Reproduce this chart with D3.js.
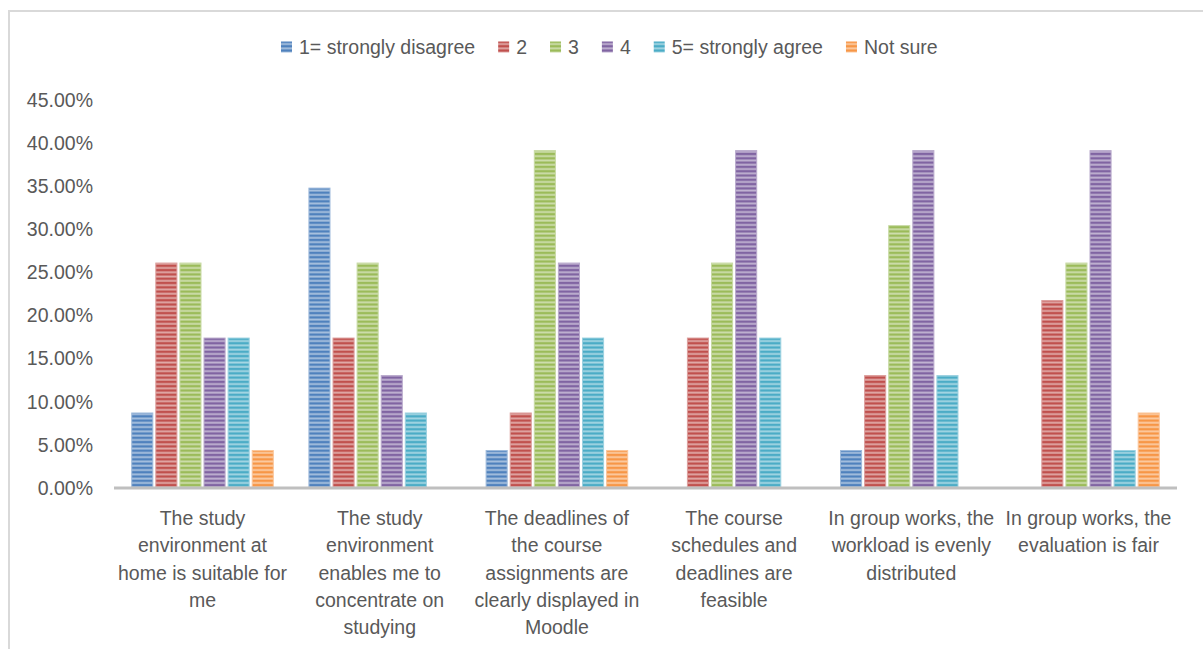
<!DOCTYPE html>
<html>
<head>
<meta charset="utf-8">
<script src="https://cdn.jsdelivr.net/npm/d3@7"></script>
<style>
  html, body { margin: 0; padding: 0; background: #fff; }
  svg { display: block; }
  text { font-family: "Liberation Sans", Arial, sans-serif; fill: #595959; }
</style>
</head>
<body>
<svg id="chart" width="1203" height="649"></svg>
<script>
// Survey statements (line breaks mark how each label wraps)
const categories = [
  "The study\nenvironment at\nhome is suitable for\nme",
  "The study\nenvironment\nenables me to\nconcentrate on\nstudying",
  "The deadlines of\nthe course\nassignments are\nclearly displayed in\nMoodle",
  "The course\nschedules and\ndeadlines are\nfeasible",
  "In group works, the\nworkload is evenly\ndistributed",
  "In group works, the\nevaluation is fair"
];

// Response options (legend order)
const seriesNames = ["1= strongly disagree", "2", "3", "4", "5= strongly agree", "Not sure"];

// Share of respondents (%) per statement, one array per response option
const stronglyDisagree = [8.70, 34.78, 4.35, 0, 4.35, 0];
const option2          = [26.09, 17.39, 8.70, 17.39, 13.04, 21.74];
const option3          = [26.09, 26.09, 39.13, 26.09, 30.43, 26.09];
const option4          = [17.39, 13.04, 26.09, 39.13, 39.13, 39.13];
const stronglyAgree    = [17.39, 8.70, 17.39, 17.39, 13.04, 4.35];
const notSure          = [4.35, 0, 4.35, 0, 0, 8.70];

const yTicks = [0, 5, 10, 15, 20, 25, 30, 35, 40, 45];

const seriesValues = [stronglyDisagree, option2, option3, option4, stronglyAgree, notSure];
const colors = ["#4f81bd", "#c0504d", "#9bbb59", "#8064a2", "#4bacc6", "#f79646"];

const svg = d3.select("#chart");

// Outer chart frame
svg.append("rect")
  .attr("x", 9).attr("y", 11)
  .attr("width", 1200).attr("height", 650)
  .attr("fill", "none").attr("stroke", "#d9d9d9").attr("stroke-width", 2);

// Striped fills for each series
const defs = svg.append("defs");
colors.forEach((c, i) => {
  const light = d3.interpolateRgb(c, "#ffffff")(0.5);
  const p = defs.append("pattern")
    .attr("id", "stripe" + i)
    .attr("patternUnits", "userSpaceOnUse")
    .attr("width", 8).attr("height", 4.3);
  p.append("rect").attr("width", 8).attr("height", 4.3).attr("fill", c);
  p.append("rect").attr("y", 0.4).attr("width", 8).attr("height", 1.9).attr("fill", light);
});

const plot = { left: 114, right: 1177, top: 100, bottom: 488 };

const x0 = d3.scaleBand()
  .domain(d3.range(categories.length))
  .range([plot.left, plot.right])
  .paddingInner(0.167)
  .paddingOuter(0.083);

const x1 = d3.scaleBand()
  .domain(d3.range(seriesNames.length))
  .range([0, x0.bandwidth()])
  .padding(0.125);

const y = d3.scaleLinear().domain([0, 45]).range([plot.bottom, plot.top]);

// Y axis labels (no axis line, no gridlines)
const yAxis = d3.axisLeft(y)
  .tickValues(yTicks)
  .tickSize(0)
  .tickPadding(0)
  .tickFormat(d => d.toFixed(2) + "%");
const yG = svg.append("g")
  .attr("transform", `translate(93,0)`)
  .call(yAxis);
yG.select(".domain").remove();
yG.selectAll("text")
  .attr("font-size", "19.5px")
  .attr("font-family", "'Liberation Sans', Arial, sans-serif")
  .attr("fill", "#595959");

// Bars
const groups = svg.append("g").selectAll("g")
  .data(categories.map((c, ci) => ({ ci, vals: seriesValues.map(s => s[ci]) })))
  .join("g")
  .attr("transform", d => `translate(${x0(d.ci)},0)`);

groups.selectAll("rect")
  .data(d => d.vals.map((v, si) => ({ v, si })).filter(e => e.v > 0))
  .join("rect")
  .attr("x", d => x1(d.si))
  .attr("y", d => y(d.v))
  .attr("width", x1.bandwidth())
  .attr("height", d => y(0) - y(d.v))
  .attr("fill", d => `url(#stripe${d.si})`)
  .attr("stroke", d => d3.interpolateRgb(colors[d.si], "#ffffff")(0.45))
  .attr("stroke-width", 1);

// Category axis line
const xAxis = d3.axisBottom(x0).tickSize(0).tickFormat("");
const xG = svg.append("g")
  .attr("transform", `translate(0,${plot.bottom})`)
  .call(xAxis);
xG.select(".domain")
  .attr("stroke", "#bfbfbf")
  .attr("stroke-width", 3)
  .attr("d", `M${plot.left},0H${plot.right}`);

// Category labels
const lineH = 27.3;
svg.append("g").selectAll("text")
  .data(categories)
  .join("text")
  .attr("text-anchor", "middle")
  .attr("font-size", "19.5px")
  .attr("transform", (d, i) => `translate(${x0(i) + x0.bandwidth() / 2},525)`)
  .each(function (d) {
    d.split("\n").forEach((line, k) => {
      d3.select(this).append("tspan")
        .attr("x", 0)
        .attr("y", k * lineH)
        .text(line);
    });
  });

// Legend
const legend = svg.append("g").attr("transform", "translate(281,47)");
let lx = 0;
seriesNames.forEach((name, i) => {
  const item = legend.append("g").attr("transform", `translate(${lx},0)`);
  item.append("rect")
    .attr("x", 0).attr("y", -5.5)
    .attr("width", 11).attr("height", 11)
    .attr("fill", `url(#stripe${i})`);
  const t = item.append("text")
    .attr("x", 18).attr("y", 7)
    .attr("font-size", "19.5px")
    .text(name);
  lx += 18 + t.node().getComputedTextLength() + 23;
});
</script>
</body>
</html>
